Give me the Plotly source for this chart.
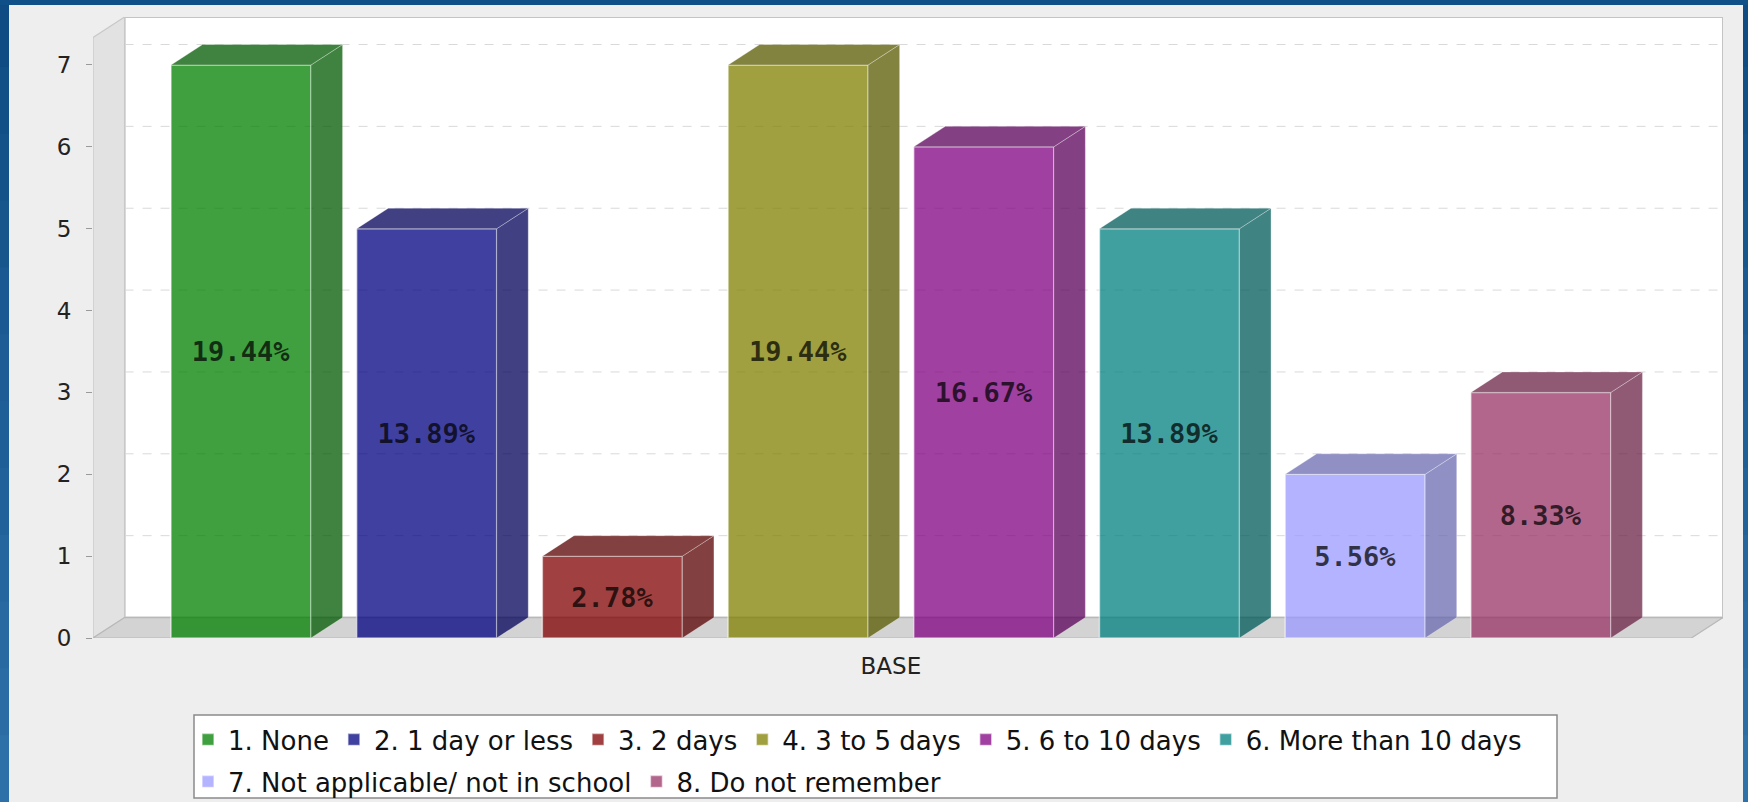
import plotly.graph_objects as go

# ---------------- data ----------------
CATEGORY = "BASE"
SERIES = ["1. None", "2. 1 day or less", "3. 2 days", "4. 3 to 5 days",
          "5. 6 to 10 days", "6. More than 10 days",
          "7. Not applicable/ not in school", "8. Do not remember"]
COUNTS = [7, 5, 1, 7, 6, 5, 2, 3]
PCT_LABELS = ["19.44%", "13.89%", "2.78%", "19.44%", "16.67%", "13.89%", "5.56%", "8.33%"]
Y_TICKS = [0, 1, 2, 3, 4, 5, 6, 7]

# ---------------- style ----------------
BASE_RGB = [(0, 128, 0), (0, 0, 128), (128, 0, 0), (128, 128, 0),
            (128, 0, 128), (0, 128, 128), (153, 153, 255), (153, 51, 102)]
ALPHA = 0.75
W, H = 1748, 802
ML, MR, MT, MB = 93, 25, 17, 164
X_RANGE = [-0.797, 7.981]
Y_RANGE = [0, 7.586]
DX, DY = 0.17, 0.25
BAR_W = 0.754
FONT = "DejaVu Sans"


def rgba(rgb, a, k=1.0):
    return "rgba(%d,%d,%d,%.3f)" % (int(rgb[0] * k), int(rgb[1] * k), int(rgb[2] * k), a)


def px_x(px):
    return (px - ML) / (W - ML - MR)


def px_y(py):
    return (H - MB - py) / (H - MT - MB)


fig = go.Figure()

for i, (name, cnt, lab, rgb) in enumerate(zip(SERIES, COUNTS, PCT_LABELS, BASE_RGB)):
    fig.add_trace(go.Bar(
        x=[i], y=[cnt], width=BAR_W, name=name,
        marker=dict(color=rgba(rgb, ALPHA),
                    line=dict(color="rgba(255,255,255,0.55)", width=1.5)),
        text=[lab], textposition="inside", insidetextanchor="middle",
        textangle=0, constraintext="none",
        textfont=dict(family="DejaVu Sans Mono", size=27, weight="bold",
                      color="rgba(0,0,0,0.72)"),
        legend="legend" if i < 6 else "legend2",
        hoverinfo="skip",
    ))

shapes = []
# frame around the chart panel (blue border)
top_c, bot_c = (15, 76, 132), (46, 112, 168)
NSEG = 12
for s in range(NSEG):
    f = s / (NSEG - 1)
    c = tuple(int(top_c[j] + (bot_c[j] - top_c[j]) * f) for j in range(3))
    y0 = px_y(H * s / NSEG)
    y1 = px_y(H * (s + 1) / NSEG) - 0.002
    for xa, xb in [(0, 9), (1743, W)]:
        shapes.append(dict(type="rect", xref="paper", yref="paper",
                           x0=px_x(xa), x1=px_x(xb), y0=y0, y1=y1,
                           fillcolor="rgb(%d,%d,%d)" % c, line=dict(width=0),
                           layer="below"))
shapes.append(dict(type="rect", xref="paper", yref="paper",
                   x0=px_x(0), x1=px_x(W), y0=px_y(0), y1=px_y(5),
                   fillcolor="rgb(16,80,136)", line=dict(width=0), layer="below"))

x0, x1 = X_RANGE
top = Y_RANGE[1]
# back wall
shapes.append(dict(type="rect", xref="x", yref="y", x0=x0 + DX, x1=x1, y0=DY, y1=top,
                   fillcolor="white", line=dict(color="#c4c4c4", width=2), layer="below"))
# grid lines on the back wall
for t in Y_TICKS[1:]:
    shapes.append(dict(type="line", xref="x", yref="y", x0=x0 + DX, x1=x1,
                       y0=t + DY, y1=t + DY,
                       line=dict(color="#d9d9d9", width=1, dash="dash"), layer="below"))
# left wall
shapes.append(dict(type="path", xref="x", yref="y",
                   path=f"M{x0},0 L{x0 + DX},{DY} L{x0 + DX},{top} L{x0},{top - DY} Z",
                   fillcolor="#e2e2e2", line=dict(color="#c8c8c8", width=1.2), layer="below"))
# floor
shapes.append(dict(type="path", xref="x", yref="y",
                   path=f"M{x0},0 L{x0 + DX},{DY} L{x1},{DY} L{x1 - DX},0 Z",
                   fillcolor="#d3d3d3", line=dict(color="#b8b8b8", width=1.2), layer="below"))

# 3D side and top faces of the bars
for i, (cnt, rgb) in enumerate(zip(COUNTS, BASE_RGB)):
    xl, xr = i - BAR_W / 2, i + BAR_W / 2
    face = rgba(rgb, ALPHA, 0.7)
    shapes.append(dict(type="path", xref="x", yref="y",
                       path=f"M{xr},0 L{xr + DX},{DY} L{xr + DX},{cnt + DY} L{xr},{cnt} Z",
                       fillcolor=face, line=dict(color="rgba(255,255,255,0.3)", width=1),
                       layer="above"))
    shapes.append(dict(type="path", xref="x", yref="y",
                       path=f"M{xl},{cnt} L{xl + DX},{cnt + DY} L{xr + DX},{cnt + DY} L{xr},{cnt} Z",
                       fillcolor=face, line=dict(color="rgba(255,255,255,0.3)", width=1),
                       layer="above"))

# legend box
shapes.append(dict(type="rect", xref="paper", yref="paper",
                   x0=px_x(194), x1=px_x(1557), y0=px_y(798), y1=px_y(715),
                   fillcolor="white", line=dict(color="#8a8a8a", width=1.5), layer="below"))

legend_common = dict(orientation="h", xanchor="left", yanchor="top",
                     bgcolor="rgba(0,0,0,0)", borderwidth=0,
                     font=dict(family=FONT, size=26, color="#111"),
                     itemclick=False, itemdoubleclick=False)

fig.update_layout(
    width=W, height=H,
    margin=dict(l=ML, r=MR, t=MT, b=MB, pad=0, autoexpand=False),
    paper_bgcolor="#eeeeee", plot_bgcolor="#eeeeee",
    barmode="overlay",
    shapes=shapes,
    legend=dict(x=px_x(188), y=px_y(716), **legend_common),
    legend2=dict(x=px_x(188), y=px_y(758), **legend_common),
    xaxis=dict(range=X_RANGE, showgrid=False, zeroline=False, showline=False,
               tickvals=[(len(COUNTS) - 1) / 2], ticktext=[CATEGORY], ticks="",
               tickfont=dict(family=FONT, size=23, color="#222"),
               ticklabelstandoff=12, fixedrange=True),
    yaxis=dict(range=Y_RANGE, showgrid=False, zeroline=False, showline=False,
               tickvals=Y_TICKS, ticks="outside", ticklen=6, tickcolor="#9a9a9a",
               tickfont=dict(family=FONT, size=23, color="#222"),
               ticklabelstandoff=10, fixedrange=True),
)

fig.write_html(
    "out.html",
    config={"displayModeBar": False},
    post_script="document.body.style.margin='0';document.body.style.background='#eeeeee';",
)
